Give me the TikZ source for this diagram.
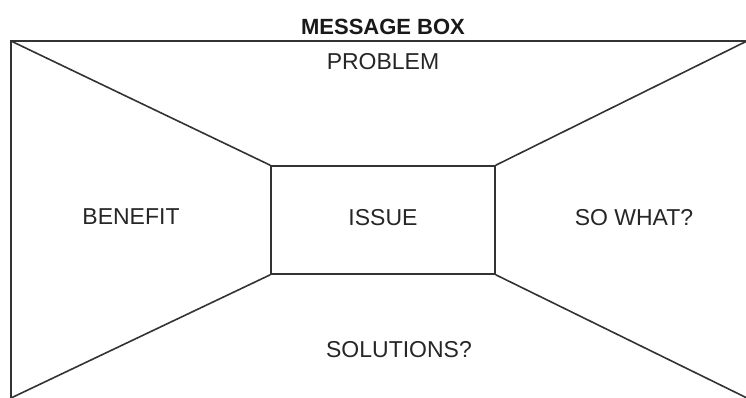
\documentclass[tikz,border=0pt]{standalone}
\usepackage{fontspec}
\setmainfont{Liberation Sans}
\begin{document}
\begin{tikzpicture}[x=1pt,y=-1pt,
  frame/.style={draw=black!80,line width=1.6pt},
  lbl/.style={font=\fontsize{23}{26}\selectfont,text=black!85,anchor=base,inner sep=0pt},
  ttl/.style={font=\fontsize{22}{26}\selectfont\bfseries,text=black!90,anchor=base,inner sep=0pt}]
\useasboundingbox[fill=white] (0,0) rectangle (746,397);
\coordinate (tl) at (11,41);
\coordinate (tr) at (747,41);
\coordinate (bl) at (11,398);
\coordinate (br) at (747,398);
\node[frame,minimum width=224pt,minimum height=108pt,inner sep=0pt] (box) at (383,220) {};
\draw[frame] (bl) -- (tl) -- (tr);
\draw[frame] (tl) -- (box.north west);
\draw[frame] (tr) -- (box.north east);
\draw[frame] (bl) -- (box.south west);
\draw[frame] (br) -- (box.south east);
\node[ttl] (title) at (383,34) {MESSAGE BOX};
\node[lbl] (problem) at (383,69) {PROBLEM};
\node[lbl] (benefit) at (131,224) {BENEFIT};
\node[lbl] (issue) at (383,225) {ISSUE};
\node[lbl] (sowhat) at (634,225) {SO WHAT?};
\node[lbl] (solutions) at (399,357) {SOLUTIONS?};
\end{tikzpicture}
\end{document}
